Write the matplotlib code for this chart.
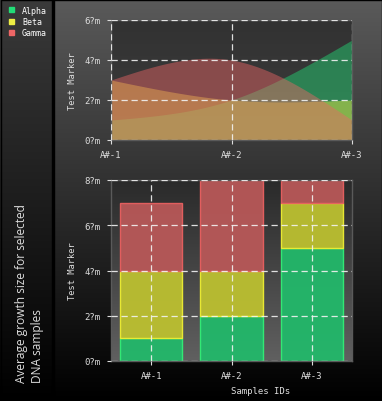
import numpy as np
import matplotlib
matplotlib.use("Agg")
import matplotlib.pyplot as plt
from matplotlib.patches import Rectangle

# data
samples = ["A#-1", "A#-2", "A#-3"]
series_names = ["Alpha", "Beta", "Gamma"]
alpha_vals = [1, 2, 5]
beta_vals = [3, 2, 2]
gamma_vals = [3, 4, 1]
top_yticks = [0, 2, 4, 6]
bar_yticks = [0, 2, 4, 6, 8]
title = "Average growth size for selected\nDNA samples"

colors = ["#22dd77", "#eeee44", "#ee6666"]
bar_faces = ["#22b86a", "#bcc030", "#b85858"]
bar_edges = ["#33ee77", "#eeee33", "#e86060"]
MONO = "DejaVu Sans Mono"
TXT = "#dddddd"


def natural_spline(y, n=200):
    # natural cubic spline through equally spaced points (for smooth drawing)
    y = np.asarray(y, float)
    k = len(y)
    A = np.zeros((k, k))
    b = np.zeros(k)
    A[0, 0] = A[-1, -1] = 1
    for i in range(1, k - 1):
        A[i, i - 1:i + 2] = [1, 4, 1]
        b[i] = 6 * (y[i - 1] - 2 * y[i] + y[i + 1])
    M = np.linalg.solve(A, b)
    xs = np.linspace(0, k - 1, n)
    out = np.empty_like(xs)
    for j, x in enumerate(xs):
        i = min(int(x), k - 2)
        t = x - i
        out[j] = (M[i] * (1 - t) ** 3 / 6 + M[i + 1] * t ** 3 / 6
                  + (y[i] - M[i] / 6) * (1 - t) + (y[i + 1] - M[i + 1] / 6) * t)
    return xs, out


def gradient(ax, top, bottom, extent, zorder=0):
    g = np.linspace(top, bottom, 256).reshape(-1, 1) / 255.0
    img = np.dstack([g, g, g])
    ax.imshow(img, extent=extent, aspect="auto", zorder=zorder,
              interpolation="bilinear", origin="upper")


W, H = 382, 402
fig = plt.figure(figsize=(W / 100, H / 100), dpi=100)

# background
bg = fig.add_axes([0, 0, 1, 1], zorder=-10)
bg.axis("off")
gradient(bg, 90, 0, (54, W, H, 0))
gradient(bg, 58, 0, (0, 52, H, 0))
bg.add_patch(Rectangle((52, 0), 2, H, color="black", zorder=2))
bg.add_patch(Rectangle((0.5, 0.5), W - 1, H - 1, fill=False, ec="black", lw=1, zorder=3))
bg.set_xlim(0, W)
bg.set_ylim(H, 0)

# legend
for i, (name, c) in enumerate(zip(series_names, colors)):
    yy = 11 + i * 11.5
    bg.add_patch(Rectangle((9, yy - 3), 5, 5, color=c, zorder=4))
    bg.text(22, yy, name, color="white", fontsize=6, family=MONO,
            va="center", ha="left", zorder=4)

fig.text(15 / W, 19 / H, title, rotation=90, rotation_mode="anchor",
         ha="left", va="top", multialignment="left", color=TXT,
         fontsize=8.6, family="Open Sans", linespacing=1.3)


def style(ax, yticks):
    ax.set_yticks(yticks)
    ax.set_yticklabels([f"{v}?m" for v in yticks])
    ax.tick_params(colors=TXT, labelsize=6.5, length=3, width=0.8,
                   pad=4.5, labelcolor=TXT)
    for lab in ax.get_xticklabels() + ax.get_yticklabels():
        lab.set_family(MONO)
    for s in ax.spines.values():
        s.set_color("#5a5a5a")
        s.set_linewidth(1)
    ax.set_axisbelow(False)
    ax.grid(True, color="#f2f2f2", lw=0.9, ls=(0, (5, 3)), alpha=0.9)
    ax.set_ylabel("Test Marker", color=TXT, fontsize=6.3, family=MONO)
    ax.yaxis.set_label_coords(-34 / 241, 0.5)


# top: smoothed area chart
ax1 = fig.add_axes([111 / W, (H - 141) / H, 241 / W, 120 / H])
gradient(ax1, 50, 60, (0, 2, 0, 6), zorder=0)
for vals, c in zip([alpha_vals, beta_vals, gamma_vals], colors):
    xs, ys = natural_spline(vals)
    ax1.fill_between(xs, 0, ys, color=c, alpha=0.45, lw=0, zorder=1)
ax1.set_xticks(range(len(samples)))
ax1.set_xticklabels(samples)
style(ax1, top_yticks)
ax1.set_xlim(0, 2)
ax1.set_ylim(0, 6)

# bottom: stacked bars
ax2 = fig.add_axes([111 / W, (H - 362) / H, 241 / W, 181 / H])
gradient(ax2, 42, 96, (-0.5, 2.5, 0, 8), zorder=0)
x = np.arange(len(samples))
bottom = np.zeros(len(samples))
for vals, fc, ec in zip([alpha_vals, beta_vals, gamma_vals], bar_faces, bar_edges):
    ax2.bar(x, vals, bottom=bottom, width=0.78, color=fc, edgecolor=ec,
            lw=1, alpha=0.95, zorder=1)
    bottom += np.array(vals)
ax2.set_xticks(x)
ax2.set_xticklabels(samples)
style(ax2, bar_yticks)
ax2.set_xlabel("Samples IDs", color=TXT, fontsize=6.5, family=MONO)
ax2.xaxis.set_label_coords(150 / 241, -25 / 181)
ax2.set_xlim(-0.5, 2.5)
ax2.set_ylim(0, 8)

fig.savefig("out.png", dpi=100)
